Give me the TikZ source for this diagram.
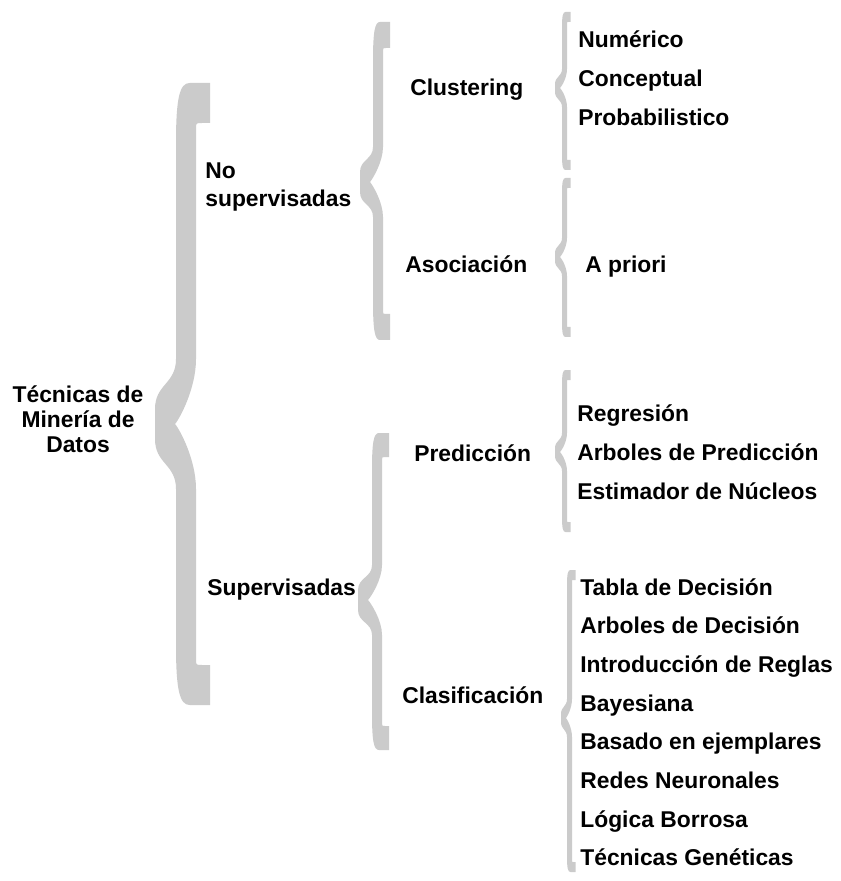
\documentclass[tikz,border=0pt]{standalone}
\usepackage{fontspec}
\setmainfont{Liberation Sans}
\usepackage{xcolor}
\definecolor{gris}{HTML}{CBCBCB}
\tikzset{
  llave/.style={fill=gris},
  rama/.style={font=\fontsize{13}{15.4}\selectfont\bfseries, inner sep=0pt, anchor=base west},
  raiz/.style={font=\fontsize{13}{14.2}\selectfont\bfseries, inner sep=0pt, align=center}
}
\newcommand{\llave}[9]{%
  \pgfmathsetmacro{\llR}{#1+#2}%
  \pgfmathsetmacro{\llE}{#1+1.7*#2}%
  \fill[llave] ({#1+0.4*(\llE-#1)},#4) -- (\llE,#4) -- (\llE,{#4+#7}) -- ({\llR+0.3*#2},{#4+#7}) .. controls (\llR,{#4+#7}) .. (\llR,{#4+#7+0.3*#2})
    -- (\llR,{#5-#9-#8}) .. controls (\llR,{#5-#9-0.4*#8}) and ({#3+#2+0.2*(#1-#3)},{#5-0.3*#9}) .. ({#3+#2},#5)
    .. controls ({#3+#2+0.2*(#1-#3)},{#5+0.3*#9}) and (\llR,{#5+#9+0.4*#8}) .. (\llR,{#5+#9+#8})
    -- (\llR,{#6-#7-0.3*#2}) .. controls (\llR,{#6-#7}) .. ({\llR+0.3*#2},{#6-#7}) -- (\llE,{#6-#7}) -- (\llE,#6) -- ({#1+0.4*(\llE-#1)},#6)
    .. controls ({#1+0.1*(\llE-#1)},#6) and (#1,{#6-0.4*#7}) .. (#1,{#6-1.5*#7})
    -- (#1,{#5+#9+#8}) .. controls (#1,{#5+#9+0.5*#8}) and (#3,{#5+#9+0.5*#8}) .. (#3,{#5+#9})
    -- (#3,{#5-#9}) .. controls (#3,{#5-#9-0.5*#8}) and (#1,{#5-#9-0.5*#8}) .. (#1,{#5-#9-#8})
    -- (#1,{#4+1.5*#7}) .. controls (#1,{#4+0.4*#7}) and ({#1+0.1*(\llE-#1)},#4) .. cycle;}
\begin{document}
\begin{tikzpicture}[x=0.02cm,y=-0.02cm]
    \useasboundingbox (0,0) rectangle (840,881);
    \llave{176}{20}{155}{83}{424}{705}{40}{50}{15}
    \llave{373}{10}{360}{22}{182}{340}{26}{25}{10}
    \llave{372}{10}{358}{433}{600}{750}{24}{25}{10}
    \llave{562}{5}{555}{12}{88}{170}{10}{15}{4}
    \llave{562}{5}{555}{178}{257}{337}{10}{15}{4}
    \llave{562}{5}{555}{370}{452}{532}{10}{15}{4}
    \llave{567}{5}{561}{570}{718}{872}{10}{15}{4}
    \node[raiz] (raiz) at (78,419) {Técnicas de\\Minería de\\Datos};
    \node[rama, anchor=west, align=left] (nosup) at (205,187) {No\\supervisadas};
    \node[rama] (sup) at (207,595) {Supervisadas};
    \node[rama] (clus) at (410,96) {Clustering};
    \node[rama] (asoc) at (405,273) {Asociación};
    \node[rama] (pred) at (414,461) {Predicción};
    \node[rama] (clas) at (402,703) {Clasificación};
    \foreach \t [count=\i] in {Numérico, Conceptual, Probabilistico}
        \node[rama] (clus-\i) at (578,{48+39*(\i-1)}) {\t};
    \node[rama] (asoc-1) at (585,273) {A priori};
    \foreach \t [count=\i] in {Regresión, Arboles de Predicción, Estimador de Núcleos}
        \node[rama] (pred-\i) at (577,{421+39*(\i-1)}) {\t};
    \foreach \t [count=\i] in {Tabla de Decisión, Arboles de Decisión, Introducción de Reglas, Bayesiana, Basado en ejemplares, Redes Neuronales, Lógica Borrosa, Técnicas Genéticas}
        \node[rama] (clas-\i) at (580,{595+38.7*(\i-1)}) {\t};
\end{tikzpicture}
\end{document}
